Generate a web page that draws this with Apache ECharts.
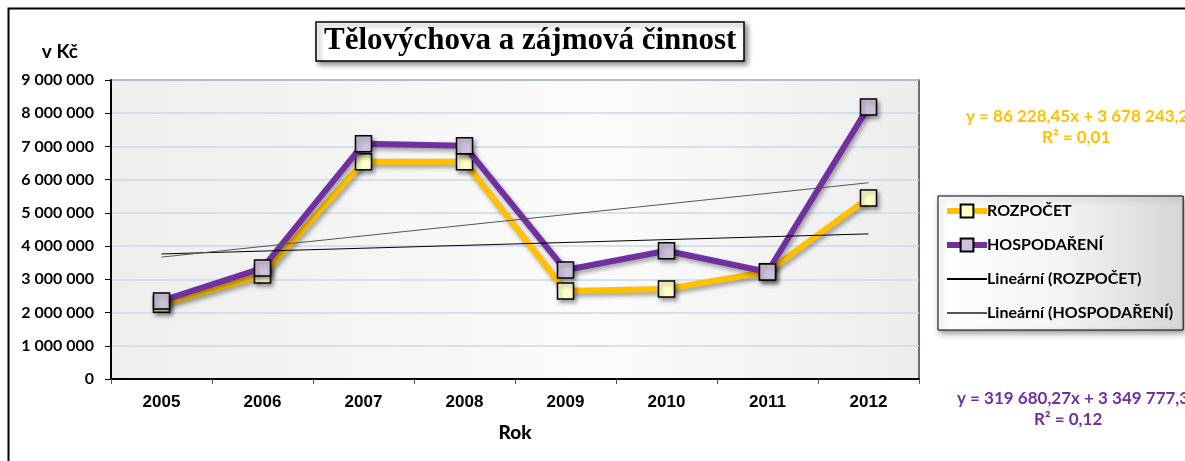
<!DOCTYPE html>
<html>
<head>
<meta charset="utf-8">
<script src="https://cdn.jsdelivr.net/npm/echarts@6/dist/echarts.min.js"></script>
<style>
  html, body { margin: 0; padding: 0; background: #fff; }
  #chart { width: 1185px; height: 461px; }
</style>
</head>
<body>
<div id="chart"></div>
<script>
// Tělovýchova a zájmová činnost – rozpočet vs. hospodaření, s lineárními trendy

const years = ['2005', '2006', '2007', '2008', '2009', '2010', '2011', '2012']
const rozpocet = [2250000, 3130000, 6540000, 6540000, 2650000, 2710000, 3230000, 5450000]
const hospodareni = [2350000, 3340000, 7080000, 7020000, 3280000, 3860000, 3220000, 8190000]
// trendové přímky – jen krajní body (2005, 2012)
const trendRozpocet = [3764000, null, null, null, null, null, null, 4368000]
const trendHospodareni = [3669000, null, null, null, null, null, null, 5907000]

const eqRozpocet = ['y = 86 228,45x + 3 678 243,21', 'R² = 0,01']
const eqHospodareni = ['y = 319 680,27x + 3 349 777,39', 'R² = 0,12']

const YELLOW = '#FFC000'
const PURPLE = '#7030A0'
const FONT = 'Lato, "Open Sans", sans-serif'

const chart = echarts.init(document.getElementById('chart'), null, { renderer: 'canvas' })

const lineShadow = {
  shadowColor: 'rgba(0,0,0,0.35)',
  shadowBlur: 4,
  shadowOffsetX: 2,
  shadowOffsetY: 3,
}

function mainSeries(name, data, lineColor, markerFill, z) {
  return {
    name,
    type: 'line',
    data,
    z,
    symbol: 'rect',
    symbolSize: 16,
    lineStyle: { color: lineColor, width: 6, ...lineShadow },
    itemStyle: { color: markerFill, borderColor: '#000', borderWidth: 1.5, ...lineShadow },
    emphasis: { disabled: true },
  }
}

function trendSeries(name, data, color) {
  return {
    name,
    type: 'line',
    data,
    z: 5,
    connectNulls: true,
    symbol: 'none',
    lineStyle: { color, width: 1 },
    itemStyle: { color, opacity: 0 },
    emphasis: { disabled: true },
  }
}

chart.setOption({
  animation: false,
  backgroundColor: '#fff',
  title: {
    text: 'Tělovýchova a zájmová činnost',
    left: 316,
    top: 22,
    padding: [3, 8, 5, 8],
    borderColor: '#000',
    borderWidth: 1.5,
    backgroundColor: '#fff',
    shadowColor: 'rgba(0,0,0,0.45)',
    shadowBlur: 5,
    shadowOffsetX: 3,
    shadowOffsetY: 3,
    textStyle: {
      fontFamily: '"Liberation Serif", serif',
      fontWeight: 'bold',
      fontSize: 31,
      color: '#000',
    },
  },
  legend: {
    orient: 'vertical',
    left: 938,
    top: 196,
    width: 244,
    padding: [7, 10, 9, 6],
    itemGap: 18,
    itemWidth: 40,
    itemHeight: 16,
    borderColor: '#000',
    borderWidth: 1,
    backgroundColor: new echarts.graphic.LinearGradient(0, 0, 1, 0, [
      { offset: 0, color: '#ffffff' },
      { offset: 0.5, color: '#f4f4f4' },
      { offset: 1, color: '#d6d6d6' },
    ]),
    shadowColor: 'rgba(0,0,0,0.4)',
    shadowBlur: 6,
    shadowOffsetX: 2,
    shadowOffsetY: 3,
    textStyle: { fontFamily: FONT, fontWeight: 'bold', fontSize: 16, color: '#000', padding: [0, 0, 0, -5] },
    data: [
      { name: 'ROZPOČET', lineStyle: { width: 6 } },
      { name: 'HOSPODAŘENÍ', lineStyle: { width: 6 } },
      'Lineární (ROZPOČET)',
      'Lineární (HOSPODAŘENÍ)',
    ],
  },
  grid: { left: 111, right: 266, top: 80, bottom: 82 },
  graphic: [
    // vnější rámeček grafu
    {
      type: 'rect',
      shape: { x: 8.5, y: 8.5, width: 1300, height: 600 },
      style: { fill: 'none', stroke: '#000', lineWidth: 2 },
      z: -10,
    },
    // pozadí oblasti vykreslování
    {
      type: 'rect',
      shape: { x: 111, y: 80, width: 808, height: 299 },
      style: {
        fill: new echarts.graphic.LinearGradient(0, 0, 1, 0, [
          { offset: 0, color: '#eeeeee' },
          { offset: 0.6, color: '#fbfbfb' },
          { offset: 1, color: '#ededed' },
        ]),
        stroke: '#404040',
        lineWidth: 1.5,
      },
      z: -5,
    },
    {
      type: 'text',
      left: 966,
      top: 108,
      style: { text: eqRozpocet[0], fill: YELLOW, font: 'bold 17px ' + FONT },
    },
    {
      type: 'text',
      left: 1042,
      top: 129,
      style: { text: eqRozpocet[1], fill: YELLOW, font: 'bold 17px ' + FONT },
    },
    {
      type: 'text',
      left: 957,
      top: 390,
      style: { text: eqHospodareni[0], fill: PURPLE, font: 'bold 17px ' + FONT },
    },
    {
      type: 'text',
      left: 1034,
      top: 411,
      style: { text: eqHospodareni[1], fill: PURPLE, font: 'bold 17px ' + FONT },
    },
  ],
  xAxis: {
    type: 'category',
    data: years,
    boundaryGap: true,
    name: 'Rok',
    nameLocation: 'middle',
    nameGap: 44,
    nameTextStyle: { fontFamily: FONT, fontWeight: 900, fontSize: 19, color: '#000' },
    axisLine: { lineStyle: { color: '#000', width: 2 } },
    axisTick: { show: true, length: 5, lineStyle: { color: '#555' } },
    axisLabel: { margin: 15, fontFamily: '"Liberation Sans", Arial, sans-serif', fontWeight: 'bold', fontSize: 17, color: '#000' },
  },
  yAxis: {
    type: 'value',
    min: 0,
    max: 9000000,
    interval: 1000000,
    name: 'v Kč',
    nameGap: 19,
    nameTextStyle: { fontFamily: FONT, fontWeight: 'bold', fontSize: 19, color: '#000', align: 'right', padding: [0, 33, 0, 0] },
    axisLine: { show: true, lineStyle: { color: '#000', width: 2 } },
    axisTick: { show: true, length: 6, lineStyle: { color: '#000' } },
    axisLabel: {
      margin: 17,
      fontFamily: FONT,
      fontWeight: 'bold',
      fontSize: 16,
      color: '#000',
      formatter: (v) => String(v).replace(/\B(?=(\d{3})+(?!\d))/g, ' '),
    },
    splitLine: { lineStyle: { color: '#c9d7ec', width: 1.5 } },
  },
  series: [
    mainSeries('ROZPOČET', rozpocet, YELLOW, '#FFFFC8', 2),
    mainSeries('HOSPODAŘENÍ', hospodareni, PURPLE, '#CCC0DA', 3),
    trendSeries('Lineární (ROZPOČET)', trendRozpocet, '#000'),
    trendSeries('Lineární (HOSPODAŘENÍ)', trendHospodareni, '#555'),
  ],
})
</script>
</body>
</html>
